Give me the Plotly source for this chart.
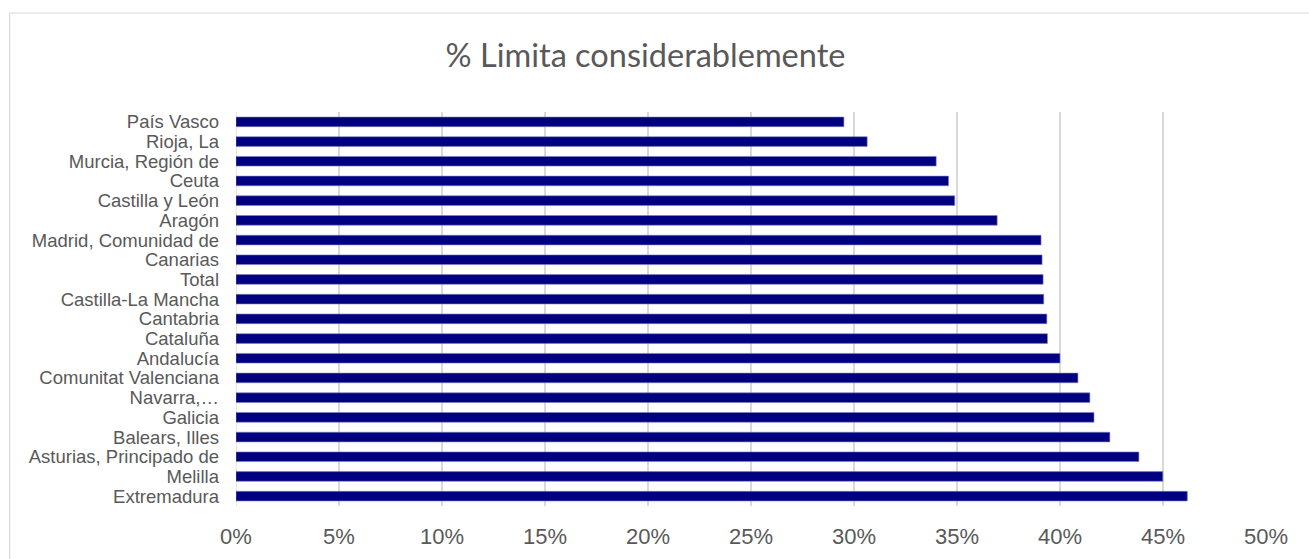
import plotly.graph_objects as go

categories = ["País Vasco", "Rioja, La", "Murcia, Región de", "Ceuta", "Castilla y León",
              "Aragón", "Madrid, Comunidad de", "Canarias", "Total", "Castilla-La Mancha",
              "Cantabria", "Cataluña", "Andalucía", "Comunitat Valenciana", "Navarra,…",
              "Galicia", "Balears, Illes", "Asturias, Principado de", "Melilla", "Extremadura"]
values = [29.51, 30.64, 33.99, 34.59, 34.89, 36.95, 39.08, 39.13, 39.18, 39.21,
          39.36, 39.39, 40.00, 40.87, 41.45, 41.65, 42.42, 43.83, 44.99, 46.18]
values = [v / 100 for v in values]
tick_vals = [0, 0.05, 0.10, 0.15, 0.20, 0.25, 0.30, 0.35, 0.40, 0.45, 0.50]
tick_text = ["0%", "5%", "10%", "15%", "20%", "25%", "30%", "35%", "40%", "45%", "50%"]

W, H = 1309, 559
L, R, T, B = 235.5, 43, 112, 53
pw, ph = W - L - R, H - T - B

fig = go.Figure(go.Bar(
    x=values, y=categories, orientation="h",
    marker=dict(color="#000080", line=dict(color="#8080c0", width=0.6)),
    width=0.49,
    hoverinfo="skip",
))

def px2paper(x, y):
    return (x - L) / pw, (H - B - y) / ph

x0, y0 = px2paper(9, 13)
x1, y1 = px2paper(1330, 580)

fig.update_layout(
    width=W, height=H,
    margin=dict(l=L, r=R, t=T, b=B, autoexpand=False),
    paper_bgcolor="white", plot_bgcolor="white",
    showlegend=False,
    title=dict(text="% Limita considerablemente", x=645.5 / W, xanchor="center",
               y=1 - 56 / H, yanchor="middle",
               font=dict(family="Lato", size=32.5, color="#595959")),
    xaxis=dict(range=[0, 0.5], tickvals=tick_vals, ticktext=tick_text,
               showgrid=True, gridcolor="#d9d9d9", gridwidth=1.3,
               zeroline=False, showline=False, ticks="",
               tickfont=dict(family="Liberation Sans", size=22, color="#595959"),
               ticklabelstandoff=15, fixedrange=True),
    yaxis=dict(autorange="reversed", showgrid=False, ticks="", showline=False,
               tickmode="array", tickvals=categories, ticktext=categories,
               tickfont=dict(family="Liberation Sans", size=18.5, color="#595959"),
               ticklabelstandoff=16, fixedrange=True),
    shapes=[dict(type="rect", xref="paper", yref="paper", x0=x0, y0=y0, x1=x1, y1=y1,
                 line=dict(color="#d9d9d9", width=1.2), layer="below")],
)
fig.add_vline(x=0, line=dict(color="#d9d9d9", width=1.3), layer="below")

fig.write_html("out.html", config={"displayModeBar": False, "staticPlot": True},
               post_script="document.body.style.margin='0';document.body.style.padding='0';document.body.style.overflow='hidden';")
